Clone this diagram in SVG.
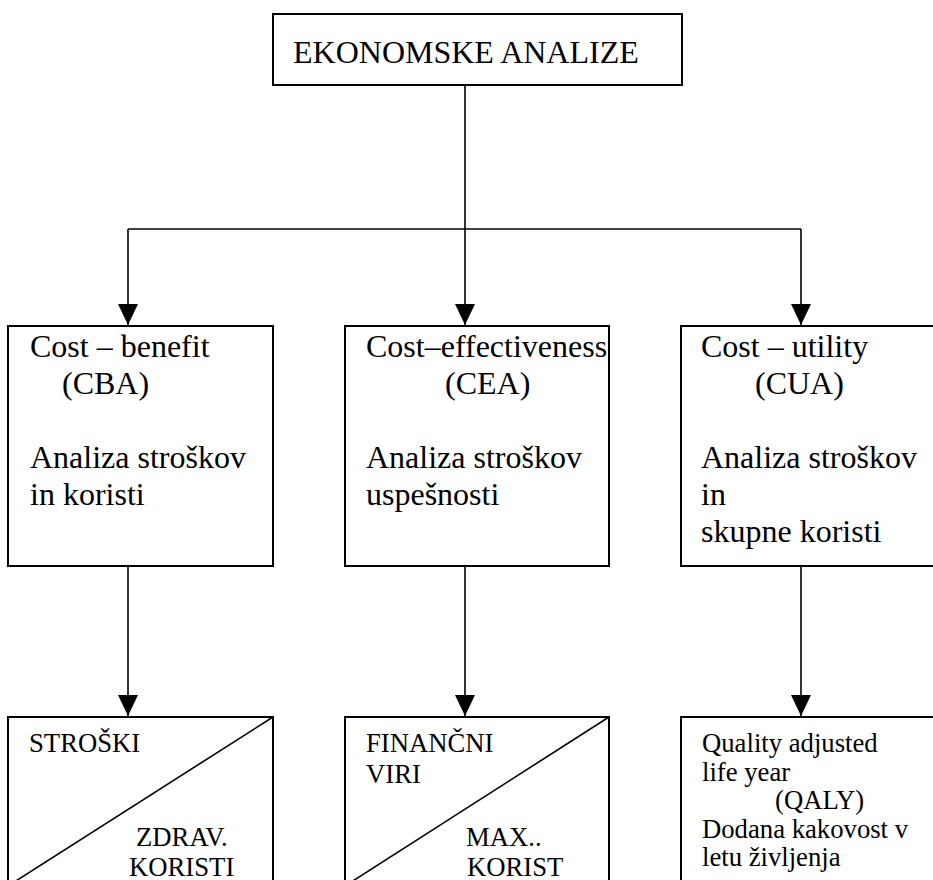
<svg xmlns="http://www.w3.org/2000/svg" width="933" height="880" viewBox="0 0 933 880">
  <style>
    .box { fill: #fff; stroke: #000; stroke-width: 2; }
    .diag { fill: none; stroke: #000; stroke-width: 1.6; }
    .wire { fill: none; stroke: #000; stroke-width: 1.6; }
    text { font-family: "Liberation Serif", Tinos, "Times New Roman", Times, "DejaVu Serif", serif; fill: #000; }
    .big { font-size: 32px; }
    .small { font-size: 26.7px; }
  </style>
  <defs>
    <marker id="arrow" markerUnits="userSpaceOnUse" markerWidth="22" markerHeight="20" refX="21" refY="10" orient="auto">
      <path d="M0,0 L21,10 L0,20 z" fill="#000"/>
    </marker>
  </defs>
  <rect width="933" height="880" fill="#fff"/>

  <!-- connectors -->
  <g id="connectors">
    <path class="wire" d="M465,85 V229"/>
    <path class="wire" d="M128,229 H801"/>
    <path class="wire" d="M128,229 V325" marker-end="url(#arrow)"/>
    <path class="wire" d="M465,229 V325" marker-end="url(#arrow)"/>
    <path class="wire" d="M801,229 V325" marker-end="url(#arrow)"/>
    <path class="wire" d="M128,566 V716" marker-end="url(#arrow)"/>
    <path class="wire" d="M465,566 V716" marker-end="url(#arrow)"/>
    <path class="wire" d="M801,566 V716" marker-end="url(#arrow)"/>
  </g>

  <!-- root -->
  <g id="ekonomske-analize">
    <rect class="box" x="273" y="14" width="409" height="71"/>
    <text class="big" x="293" y="63" font-family="Liberation Serif, serif">EKONOMSKE ANALIZE</text>
  </g>

  <!-- analysis types -->
  <g id="cba">
    <rect class="box" x="8" y="326" width="265" height="240"/>
    <text class="big" x="30" y="357">Cost – benefit</text>
    <text class="big" x="62" y="394">(CBA)</text>
    <text class="big" x="30" y="468">Analiza stroškov</text>
    <text class="big" x="30" y="505">in koristi</text>
  </g>

  <g id="cea">
    <rect class="box" x="345" y="326" width="264" height="240"/>
    <text class="big" x="366" y="357">Cost–effectiveness</text>
    <text class="big" x="445" y="394">(CEA)</text>
    <text class="big" x="366" y="468">Analiza stroškov</text>
    <text class="big" x="366" y="505">uspešnosti</text>
  </g>

  <g id="cua">
    <rect class="box" x="681" y="326" width="270" height="240"/>
    <text class="big" x="701" y="357">Cost – utility</text>
    <text class="big" x="755" y="394">(CUA)</text>
    <text class="big" x="701" y="468">Analiza stroškov</text>
    <text class="big" x="701" y="505">in</text>
    <text class="big" x="701" y="542">skupne koristi</text>
  </g>

  <!-- outcome boxes -->
  <g id="stroski">
    <rect class="box" x="8" y="717" width="265" height="169"/>
    <path class="diag" d="M273,717 L8,886"/>
    <text class="small" x="29" y="752">STROŠKI</text>
    <text class="small" x="136" y="846">ZDRAV.</text>
    <text class="small" x="129" y="876">KORISTI</text>
  </g>

  <g id="financni-viri">
    <rect class="box" x="345" y="717" width="264" height="169"/>
    <path class="diag" d="M609,717 L345,886"/>
    <text class="small" x="366" y="752">FINANČNI</text>
    <text class="small" x="366" y="783">VIRI</text>
    <text class="small" x="466" y="846">MAX..</text>
    <text class="small" x="467" y="876">KORIST</text>
  </g>

  <g id="qaly">
    <rect class="box" x="681" y="717" width="270" height="169"/>
    <text class="small" x="702" y="752">Quality adjusted</text>
    <text class="small" x="702" y="780.5">life year</text>
    <text class="small" x="775" y="809">(QALY)</text>
    <text class="small" x="702" y="837.5">Dodana kakovost v</text>
    <text class="small" x="702" y="866">letu življenja</text>
  </g>
</svg>
